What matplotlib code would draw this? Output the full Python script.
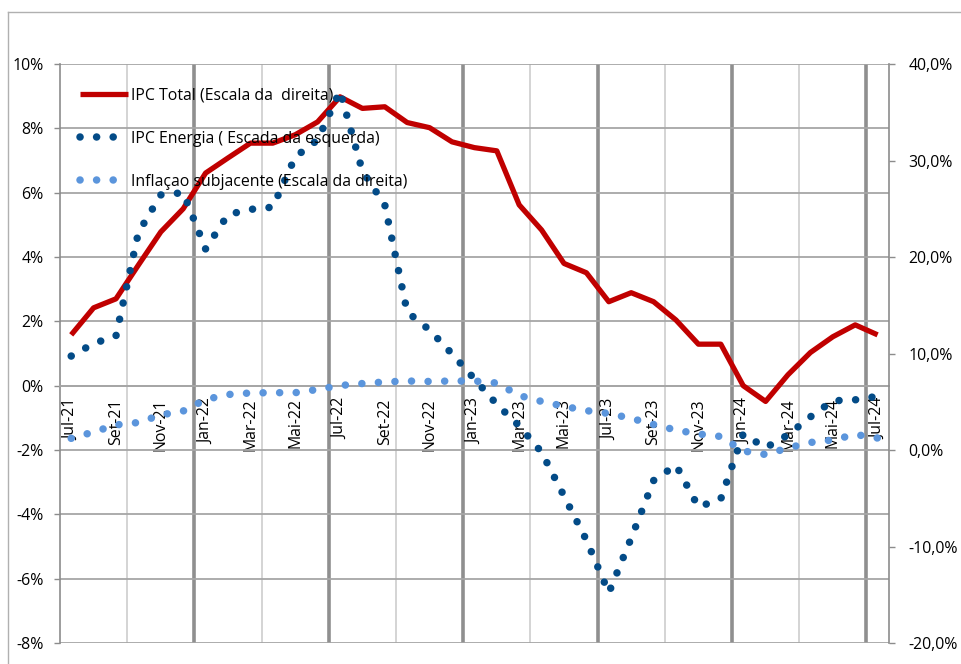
import matplotlib
matplotlib.use("Agg")
import matplotlib.pyplot as plt
from matplotlib.lines import Line2D
import numpy as np

plt.rcParams['font.family'] = ['Open Sans', 'DejaVu Sans']
plt.rcParams['font.size'] = 11.4

months = ["Jul-21", "Ago-21", "Set-21", "Out-21", "Nov-21", "Dez-21",
          "Jan-22", "Fev-22", "Mar-22", "Abr-22", "Mai-22", "Jun-22",
          "Jul-22", "Ago-22", "Set-22", "Out-22", "Nov-22", "Dez-22",
          "Jan-23", "Fev-23", "Mar-23", "Abr-23", "Mai-23", "Jun-23",
          "Jul-23", "Ago-23", "Set-23", "Out-23", "Nov-23", "Dez-23",
          "Jan-24", "Fev-24", "Mar-24", "Abr-24", "Mai-24", "Jun-24", "Jul-24"]

ipc_total = [1.58, 2.42, 2.70, 3.75, 4.78, 5.50, 6.61, 7.08, 7.54, 7.54, 7.80, 8.20,
             8.98, 8.62, 8.67, 8.18, 8.02, 7.58, 7.40, 7.30, 5.62, 4.84, 3.80, 3.51,
             2.61, 2.89, 2.61, 2.04, 1.29, 1.29, 0.00, -0.49, 0.34, 1.03, 1.52, 1.89, 1.58]

ipc_energia = [0.92, 1.31, 1.55, 4.76, 5.93, 6.00, 4.25, 5.32, 5.48, 5.55, 7.11, 7.64,
               9.16, 6.67, 5.62, 2.29, 1.73, 0.99, 0.21, -0.58, -1.25, -2.07, -3.43, -4.80,
               -6.44, -4.74, -2.95, -2.47, -3.77, -3.52, -1.50, -1.93, -1.53, -0.97, -0.47, -0.44, -0.33]

inflacao_subj = [1.21, 1.87, 2.60, 2.85, 3.63, 4.04, 5.23, 5.75, 5.91, 5.94, 5.94, 6.27,
                 6.68, 6.89, 7.05, 7.15, 7.10, 7.15, 7.15, 6.94, 5.65, 5.03, 4.53, 4.08,
                 3.78, 3.28, 2.64, 2.07, 1.66, 1.40, -0.10, -0.47, 0.21, 0.78, 1.04, 1.61, 1.24]

left_ticks = [-8, -6, -4, -2, 0, 2, 4, 6, 8, 10]
left_labels = ["-8%", "-6%", "-4%", "-2%", "0%", "2%", "4%", "6%", "8%", "10%"]
right_ticks = [-20, -10, 0, 10, 20, 30, 40]
right_labels = ["-20,0%", "-10,0%", "0,0%", "10,0%", "20,0%", "30,0%", "40,0%"]

labels_legend = ["IPC Total (Escala da  direita)",
                 "IPC Energia ( Escada da esquerda)",
                 "Inflaçao subjacente (Escala da direita)"]

W, H = 962, 664
fig = plt.figure(figsize=(W / 100, H / 100), dpi=100)
L, R, T, B = 60, 888.8, 64, 643
ax = fig.add_axes([L / W, 1 - B / H, (R - L) / W, (B - T) / H])
ax2 = ax.twinx()

n = len(months)
x = np.arange(n) + 0.5

GRID = "#a6a6a6"
AX = "#8c8c8c"

ax.set_ylim(-8, 10)
ax.set_xlim(0, n)
ax.set_yticks(left_ticks)
ax.set_yticklabels(left_labels)
ax.yaxis.grid(True, color=GRID, lw=1.3, zorder=0)
ax.set_axisbelow(True)
for k in range(3, n, 3):
    if k % 6 == 0:
        ax.axvline(k, color="#8f8f8f", lw=2.6, zorder=0.5)
    else:
        ax.axvline(k, color="#d4d4d4", lw=1.4, zorder=0.5)

dot_lw = 5.4
dot_gap = 16.5 / (dot_lw * 100 / 72)
red, = ax.plot(x, ipc_total, color="#c00000", lw=3.8, solid_joinstyle="round",
               solid_capstyle="butt", zorder=3, label=labels_legend[0])
ener, = ax.plot(x, ipc_energia, color="#034b87", lw=dot_lw,
                linestyle=(0, (0.01, dot_gap)), dash_capstyle="round", zorder=4,
                label=labels_legend[1])
core, = ax2.plot(x, inflacao_subj, color="#5b95dc", lw=dot_lw,
                 linestyle=(0, (0.01, dot_gap)), dash_capstyle="round", zorder=4,
                 label=labels_legend[2])

ax2.set_ylim(-20, 40)
ax2.set_yticks(right_ticks)
ax2.set_yticklabels(right_labels)

ax.spines['bottom'].set_position(('data', 0))
ax.spines['bottom'].set_color(GRID)
ax.spines['bottom'].set_linewidth(1.3)
ax.spines['top'].set_visible(False)
ax.spines['right'].set_visible(False)
ax.spines['left'].set_color(AX)
ax.spines['left'].set_linewidth(1.2)
for s in ['top', 'bottom', 'left']:
    ax2.spines[s].set_visible(False)
ax2.spines['right'].set_color(AX)
ax2.spines['right'].set_linewidth(1.2)

ax.set_xticks(x[::2])
ax.set_xticklabels(months[::2], rotation=90, va="top", ha="center")
ax.tick_params(axis='x', length=0, pad=9)
ax.tick_params(axis='y', length=4, width=1, color=AX, pad=8)
ax2.tick_params(axis='y', length=4, width=1, color=AX, pad=10)

leg = ax2.legend(handles=[red, ener, core], loc="upper left",
                 bbox_to_anchor=(80 / W, 1 - 88 / H), bbox_transform=fig.transFigure,
                 frameon=False, borderpad=0, borderaxespad=0, handlelength=3.0,
                 handletextpad=0.2, labelspacing=1.7, fontsize=11.4)

fig.add_artist(Line2D([8 / W, 1.0], [1 - 12 / H, 1 - 12 / H], transform=fig.transFigure,
                      color="#b0b0b0", lw=1))
fig.add_artist(Line2D([8 / W, 8 / W], [0, 1 - 12 / H], transform=fig.transFigure,
                      color="#b0b0b0", lw=1))

fig.savefig("out.png", dpi=100)
